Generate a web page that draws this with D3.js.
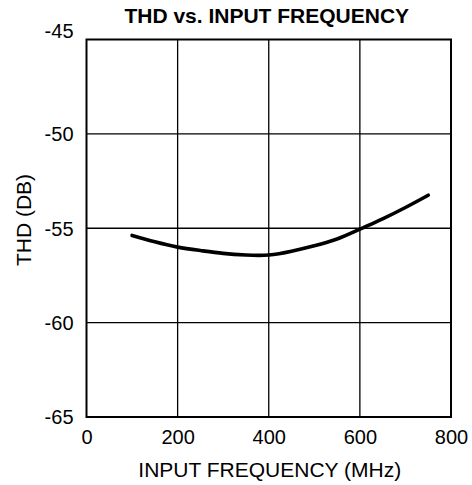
<!DOCTYPE html>
<html>
<head>
<meta charset="utf-8">
<script src="https://cdn.jsdelivr.net/npm/d3@7"></script>
<style>
  body { margin: 0; background: #fff; }
  svg text { font-family: "Liberation Sans", Arial, sans-serif; fill: #000; }
</style>
</head>
<body>
<div id="chart"></div>
<script>
// input frequency (MHz)
var freq = [100, 150, 200, 250, 300, 350, 400, 450, 500, 550, 600, 650, 700, 750];
// THD (dB)
var thd = [-55.38, -55.72, -56.0, -56.18, -56.33, -56.42, -56.42, -56.22, -55.93, -55.57, -55.05, -54.5, -53.9, -53.25];

var xTicks = [0, 200, 400, 600, 800];
var yTicks = [-65, -60, -55, -50, -45];

var outerWidth = 472, outerHeight = 485;
var margin = {top: 39.5, right: 21, bottom: 68, left: 86.5};
var width = outerWidth - margin.left - margin.right;
var height = outerHeight - margin.top - margin.bottom;

var svg = d3.select("#chart")
    .append("svg")
    .attr("width", outerWidth)
    .attr("height", outerHeight);

var g = svg.append("g")
    .attr("transform", "translate(" + margin.left + "," + margin.top + ")");

var xScale = d3.scaleLinear().domain([0, 800]).range([0, width]);
var yScale = d3.scaleLinear().domain([-65, -45]).range([height, 0]);

// gridlines
g.append("g")
    .selectAll("line")
    .data(xTicks.slice(1, -1))
    .enter().append("line")
    .attr("x1", d => xScale(d)).attr("x2", d => xScale(d))
    .attr("y1", 0).attr("y2", height)
    .attr("stroke", "#000").attr("stroke-width", 1.3);

g.append("g")
    .selectAll("line")
    .data(yTicks.slice(1, -1))
    .enter().append("line")
    .attr("y1", d => yScale(d)).attr("y2", d => yScale(d))
    .attr("x1", 0).attr("x2", width)
    .attr("stroke", "#000").attr("stroke-width", 1.3);

// X axis
var xAxis = g.append("g")
    .attr("transform", "translate(0," + height + ")")
    .call(d3.axisBottom(xScale).tickValues(xTicks).tickSize(0).tickPadding(12)
          .tickFormat(d => String(d)));
xAxis.select(".domain").remove();
xAxis.selectAll("text").style("font-size", "20px").attr("dy", "0.75em");

// Y axis (plain hyphen for minus, as in the original)
var yAxis = g.append("g")
    .call(d3.axisLeft(yScale).tickValues(yTicks).tickSize(0).tickPadding(13)
          .tickFormat(d => String(d)));
yAxis.select(".domain").remove();
yAxis.selectAll("text")
    .style("font-size", "20px")
    .attr("dy", d => d == -45 ? "-0.08em" : "0.34em");

// frame
g.append("rect")
    .attr("width", width).attr("height", height)
    .attr("fill", "none").attr("stroke", "#000").attr("stroke-width", 2);

// THD curve
var line = d3.line()
    .x((d, i) => xScale(freq[i]))
    .y(d => yScale(d))
    .curve(d3.curveNatural);

g.append("path")
    .datum(thd)
    .attr("d", line)
    .attr("fill", "none")
    .attr("stroke", "#000")
    .attr("stroke-width", 3.6)
    .attr("stroke-linecap", "round");

// title and labels
svg.append("text")
    .attr("x", margin.left + width / 2 - 2)
    .attr("y", 22.5)
    .attr("text-anchor", "middle")
    .style("font-size", "21px")
    .style("font-weight", "bold")
    .text("THD vs. INPUT FREQUENCY");

svg.append("text")
    .attr("x", margin.left + width / 2 + 1)
    .attr("y", 476.5)
    .attr("text-anchor", "middle")
    .style("font-size", "21px")
    .text("INPUT FREQUENCY (MHz)");

svg.append("text")
    .attr("transform", "translate(30.5,220) rotate(-90)")
    .attr("text-anchor", "middle")
    .style("font-size", "21px")
    .text("THD (DB)");
</script>
</body>
</html>
